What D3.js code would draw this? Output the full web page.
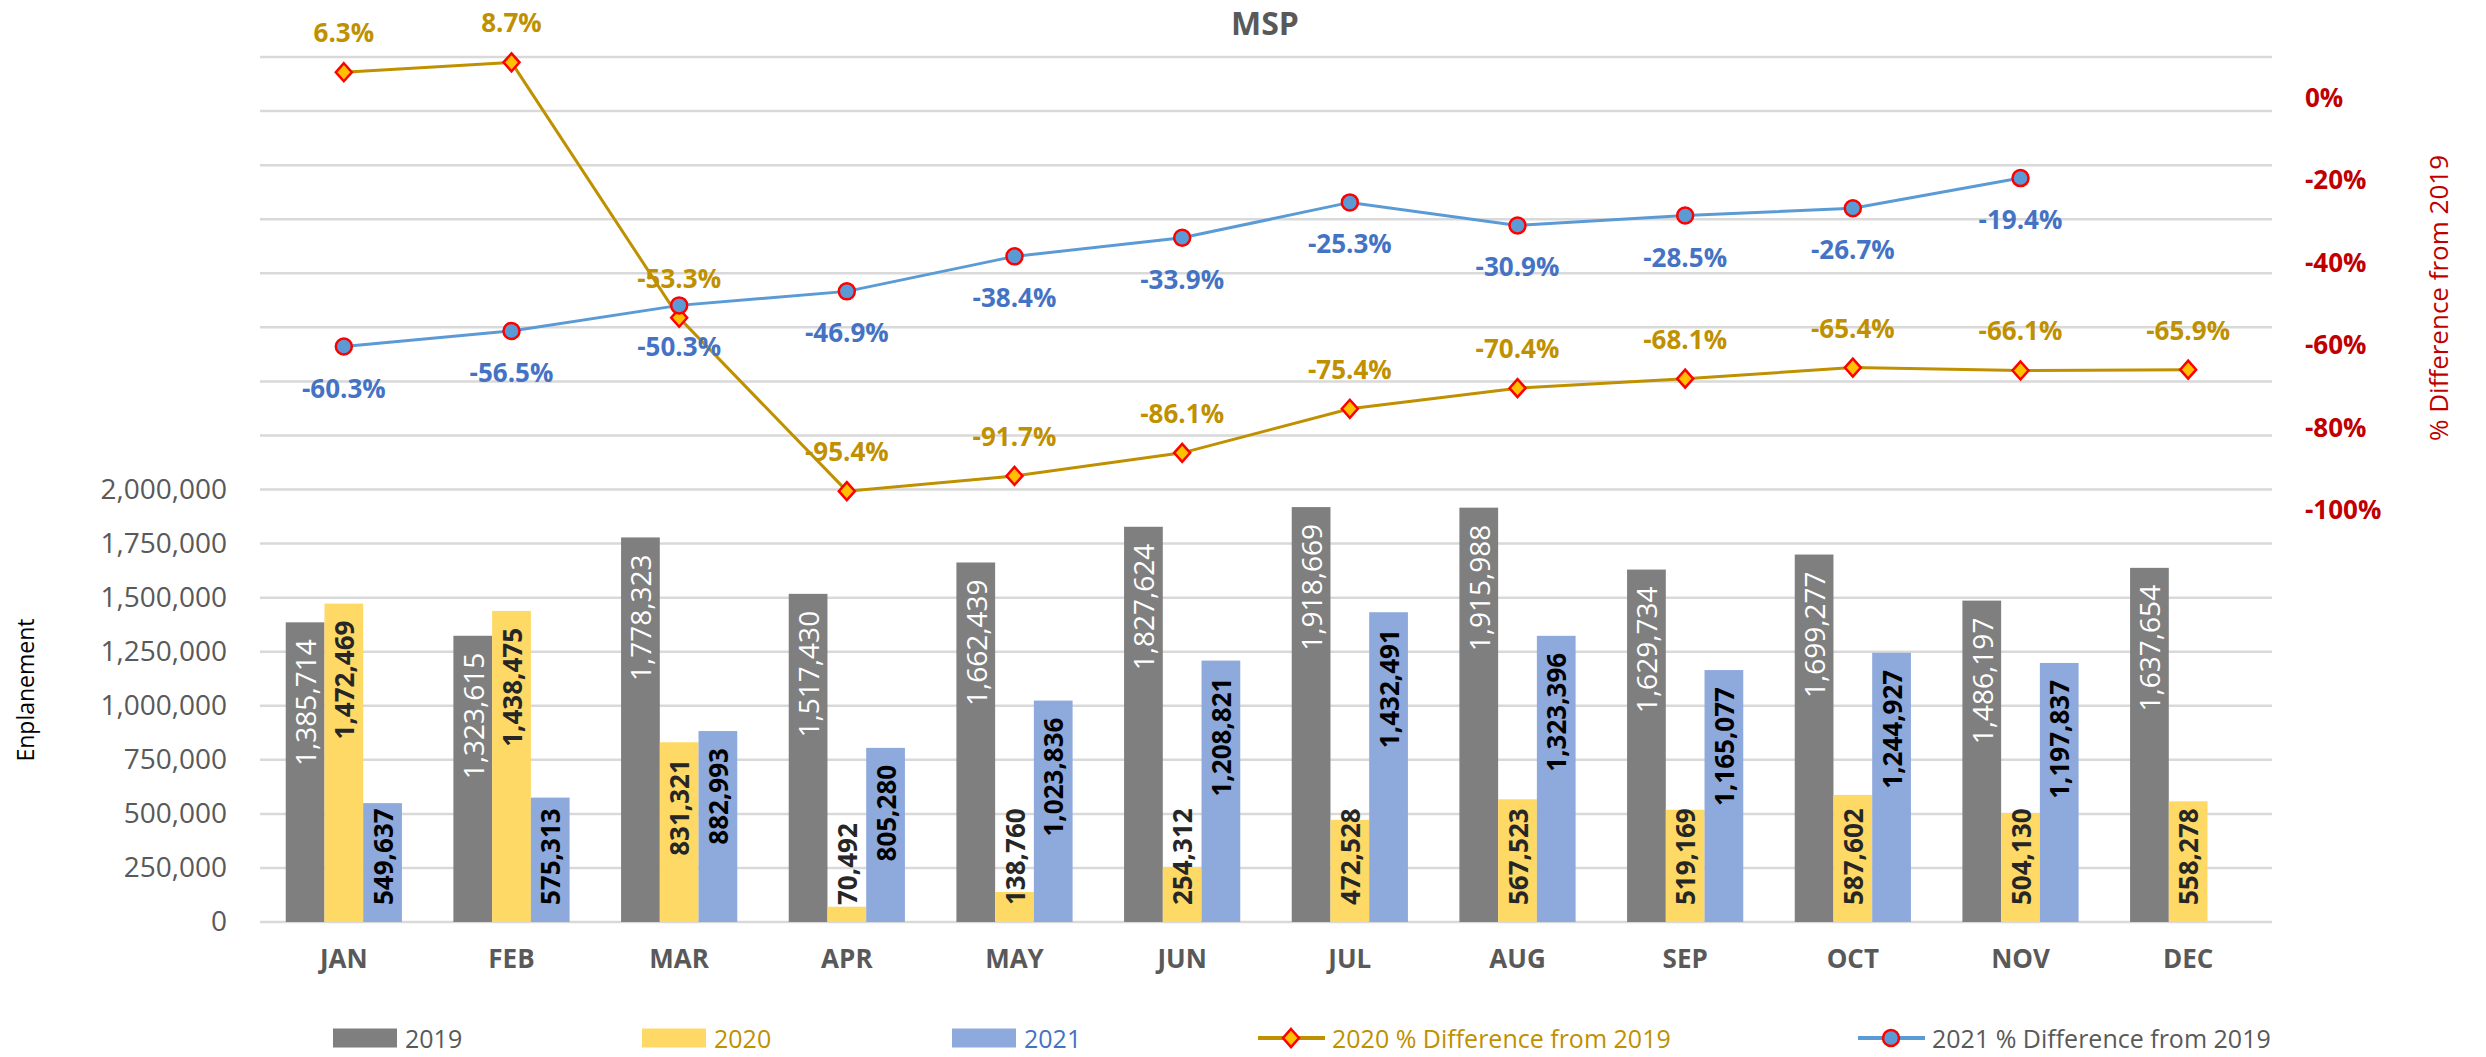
<!DOCTYPE html>
<html>
<head>
<meta charset="utf-8">
<script src="https://cdn.jsdelivr.net/npm/d3@7"></script>
<style>
  html, body { margin: 0; padding: 0; background: #fff; }
  svg text { font-family: "Open Sans", "Noto Sans", sans-serif; }
</style>
</head>
<body>
<div id="chart"></div>
<script>
// ---- data ----
const months = ['JAN', 'FEB', 'MAR', 'APR', 'MAY', 'JUN', 'JUL', 'AUG', 'SEP', 'OCT', 'NOV', 'DEC'];
const years = ['2019', '2020', '2021'];
const enpl2019 = [1385714, 1323615, 1778323, 1517430, 1662439, 1827624, 1918669, 1915988, 1629734, 1699277, 1486197, 1637654];
const enpl2020 = [1472469, 1438475, 831321, 70492, 138760, 254312, 472528, 567523, 519169, 587602, 504130, 558278];
const enpl2021 = [549637, 575313, 882993, 805280, 1023836, 1208821, 1432491, 1323396, 1165077, 1244927, 1197837, null];
const pct2020 = [6.3, 8.7, -53.3, -95.4, -91.7, -86.1, -75.4, -70.4, -68.1, -65.4, -66.1, -65.9];
const pct2021 = [-60.3, -56.5, -50.3, -46.9, -38.4, -33.9, -25.3, -30.9, -28.5, -26.7, -19.4, null];
const leftTicks = [0, 250000, 500000, 750000, 1000000, 1250000, 1500000, 1750000, 2000000];
const rightTicks = [-100, -80, -60, -40, -20, 0];
const legendLabels = ['2019', '2020', '2021', '2020 % Difference from 2019', '2021 % Difference from 2019'];

const W = 2486, H = 1057;
const margin = { top: 57, right: 214, bottom: 135, left: 260 },
  width = W - margin.left - margin.right,
  height = H - margin.top - margin.bottom;

const barColors = { '2019': '#7F7F7F', '2020': '#FFD966', '2021': '#8EA9DB' };
const barLabelColors = { '2019': '#FFFFFF', '2020': '#262626', '2021': '#000000' };
const line20 = '#BF9000', line21 = '#5B9BD5', markerStroke = '#FF0000';

const svg = d3.select('#chart').append('svg')
  .attr('width', W).attr('height', H);

const g = svg.append('g')
  .attr('transform', `translate(${margin.left},${margin.top})`);

const x0 = d3.scaleBand().domain(months).range([0, width]).padding(0);
const bw = x0.bandwidth() * 0.231;
const x1 = d3.scaleBand().domain(years).range([0, bw * 3]);
const groupOff = (x0.bandwidth() - bw * 3) / 2;

const yL = d3.scaleLinear().domain([0, 4000000]).range([height, 0]);
const yR = d3.scaleLinear().domain([-200, 10]).range([height, 0]);

// gridlines (every 250k up to top of plot)
g.append('g').attr('class', 'grid')
  .selectAll('line')
  .data(d3.range(0, 4000001, 250000))
  .join('line')
  .attr('x1', 0).attr('x2', width)
  .attr('y1', (d) => yL(d)).attr('y2', (d) => yL(d))
  .attr('stroke', '#D9D9D9').attr('stroke-width', 2.5);

// left axis
const leftAxis = g.append('g')
  .call(d3.axisLeft(yL).tickValues(leftTicks).tickFormat(d3.format(',')).tickSize(0).tickPadding(33));
leftAxis.select('.domain').remove();
leftAxis.selectAll('text')
  .attr('fill', '#595959').style('font-size', '28px');

// right axis
const rightAxis = g.append('g')
  .attr('transform', `translate(${width},0)`)
  .call(d3.axisRight(yR).tickValues(rightTicks).tickFormat((d) => `${d}%`).tickSize(0).tickPadding(33));
rightAxis.select('.domain').remove();
rightAxis.selectAll('text')
  .attr('fill', '#C00000').style('font-size', '26px').style('font-weight', 'bold');

// x axis labels
const xAxis = g.append('g')
  .attr('transform', `translate(0,${height})`)
  .call(d3.axisBottom(x0).tickSize(0).tickPadding(28));
xAxis.select('.domain').remove();
xAxis.selectAll('text')
  .attr('fill', '#595959').style('font-size', '26px').style('font-weight', 'bold');

// axis titles
svg.append('text')
  .attr('transform', `translate(34,690) rotate(-90)`)
  .attr('text-anchor', 'middle')
  .attr('fill', '#000')
  .style('font-size', '23px')
  .text('Enplanement');

svg.append('text')
  .attr('transform', `translate(2448,298) rotate(-90)`)
  .attr('text-anchor', 'middle')
  .attr('fill', '#C00000')
  .style('font-size', '26px')
  .text('% Difference from 2019');

svg.append('text')
  .attr('x', 1265).attr('y', 35)
  .attr('text-anchor', 'middle')
  .attr('fill', '#595959')
  .style('font-size', '32px').style('font-weight', 'bold')
  .text('MSP');

// bars
const barData = [];
months.forEach((m, i) => {
  [enpl2019, enpl2020, enpl2021].forEach((arr, k) => {
    if (arr[i] != null) barData.push({ month: m, year: years[k], value: arr[i] });
  });
});

const bars = g.append('g').attr('class', 'bars');
bars.selectAll('rect')
  .data(barData)
  .join('rect')
  .attr('x', (d) => x0(d.month) + groupOff + x1(d.year))
  .attr('width', bw)
  .attr('y', (d) => yL(d.value))
  .attr('height', (d) => height - yL(d.value))
  .attr('fill', (d) => barColors[d.year]);

// bar labels, inside end, rotated; short bars get the label pinned to the base
const pad = 17;
bars.selectAll('text')
  .data(barData)
  .join('text')
  .attr('fill', (d) => barLabelColors[d.year])
  .style('font-size', (d) => (d.year === '2019' ? '28px' : '26px'))
  .style('font-weight', (d) => (d.year === '2019' ? 'normal' : 'bold'))
  .attr('dominant-baseline', 'central')
  .text((d) => d3.format(',')(d.value))
  .each(function (d) {
    const len = this.getComputedTextLength();
    const cx = x0(d.month) + groupOff + x1(d.year) + bw / 2;
    const top = yL(d.value);
    const sel = d3.select(this);
    if (top + pad + len <= height - pad) {
      sel.attr('text-anchor', 'end')
        .attr('transform', `translate(${cx},${top + pad}) rotate(-90)`);
    } else {
      sel.attr('text-anchor', 'start')
        .attr('transform', `translate(${cx},${height - pad}) rotate(-90)`);
    }
  });

// lines
const cxm = (i) => x0(months[i]) + x0.bandwidth() / 2;
const p20 = pct2020.map((v, i) => ({ i, v })).filter((d) => d.v != null);
const p21 = pct2021.map((v, i) => ({ i, v })).filter((d) => d.v != null);

const line = d3.line()
  .x((d) => cxm(d.i))
  .y((d) => yR(d.v));

g.append('path').datum(p20)
  .attr('fill', 'none').attr('stroke', line20).attr('stroke-width', 3)
  .attr('d', line);
g.append('path').datum(p21)
  .attr('fill', 'none').attr('stroke', line21).attr('stroke-width', 3)
  .attr('d', line);

const diamond = 'M0,-9L8,0L0,9L-8,0Z';

g.append('g').selectAll('path')
  .data(p20)
  .join('path')
  .attr('d', diamond)
  .attr('transform', (d) => `translate(${cxm(d.i)},${yR(d.v)})`)
  .attr('fill', '#FFC000').attr('stroke', markerStroke).attr('stroke-width', 2.5);

g.append('g').selectAll('circle')
  .data(p21)
  .join('circle')
  .attr('cx', (d) => cxm(d.i)).attr('cy', (d) => yR(d.v))
  .attr('r', 8)
  .attr('fill', line21).attr('stroke', markerStroke).attr('stroke-width', 2.5);

// line labels
g.append('g').selectAll('text')
  .data(p20)
  .join('text')
  .attr('x', (d) => cxm(d.i)).attr('y', (d) => yR(d.v) - 30)
  .attr('text-anchor', 'middle')
  .attr('fill', line20)
  .style('font-size', '26px').style('font-weight', 'bold')
  .text((d) => `${d.v.toFixed(1)}%`);

g.append('g').selectAll('text')
  .data(p21)
  .join('text')
  .attr('x', (d) => cxm(d.i)).attr('y', (d) => yR(d.v) + 51)
  .attr('text-anchor', 'middle')
  .attr('fill', '#4472C4')
  .style('font-size', '26px').style('font-weight', 'bold')
  .text((d) => `${d.v.toFixed(1)}%`);

// legend
const legendX = [333, 642, 952, 1258, 1858];
const legendTextColor = ['#595959', line20, '#4472C4', line20, '#595959'];
const legend = svg.append('g').attr('transform', 'translate(0,1038)');
legendLabels.forEach((lab, k) => {
  const item = legend.append('g').attr('transform', `translate(${legendX[k]},0)`);
  if (k < 3) {
    item.append('rect')
      .attr('x', 0).attr('y', -9.5).attr('width', 64).attr('height', 19)
      .attr('fill', barColors[years[k]]);
  } else {
    item.append('line')
      .attr('x1', 0).attr('x2', 67).attr('y1', 0).attr('y2', 0)
      .attr('stroke', k === 3 ? line20 : line21).attr('stroke-width', 4);
    if (k === 3) {
      item.append('path').attr('d', diamond)
        .attr('transform', 'translate(33,0)')
        .attr('fill', '#FFC000').attr('stroke', markerStroke).attr('stroke-width', 2.5);
    } else {
      item.append('circle').attr('cx', 33).attr('cy', 0).attr('r', 8)
        .attr('fill', line21).attr('stroke', markerStroke).attr('stroke-width', 2.5);
    }
  }
  item.append('text')
    .attr('x', k < 3 ? 72 : 74).attr('y', 0)
    .attr('dominant-baseline', 'central')
    .attr('fill', legendTextColor[k])
    .style('font-size', '25px')
    .text(lab);
});
</script>
</body>
</html>
